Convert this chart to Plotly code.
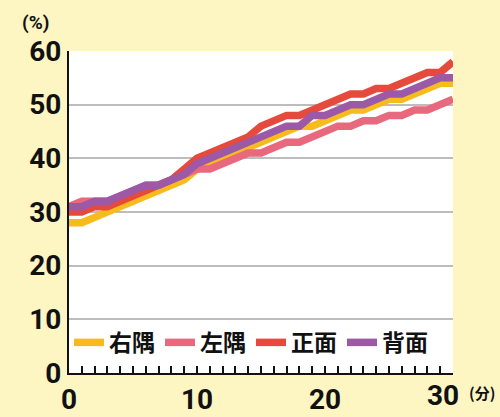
import plotly.graph_objects as go

minutes = list(range(31))

migisumi = [28, 28, 29, 30, 31, 32, 33, 34, 35, 36, 38, 39, 40, 41, 42, 43,
            44, 45, 46, 46, 47, 48, 49, 49, 50, 51, 51, 52, 53, 54, 54]
hidarisumi = [31, 32, 32, 32, 33, 34, 35, 35, 36, 37, 38, 38, 39, 40, 41, 41,
              42, 43, 43, 44, 45, 46, 46, 47, 47, 48, 48, 49, 49, 50, 51]
shomen = [30, 30, 31, 31, 32, 33, 34, 35, 36, 38, 40, 41, 42, 43, 44, 46,
          47, 48, 48, 49, 50, 51, 52, 52, 53, 53, 54, 55, 56, 56, 58]
haimen = [31, 31, 32, 32, 33, 34, 35, 35, 36, 37, 39, 40, 41, 42, 43, 44,
          45, 46, 46, 48, 48, 49, 50, 50, 51, 52, 52, 53, 54, 55, 55]

series = [("右隅", migisumi, "#f8bb1c"),
          ("左隅", hidarisumi, "#e8697e"),
          ("正面", shomen, "#e64a3c"),
          ("背面", haimen, "#9b59a8")]

# labels every 10 min; the 30 label is drawn separately so it can sit left of (分)
x_ticktext = [str(m) if m % 10 == 0 and m < 30 else "" for m in minutes]
y_ticks = [0, 10, 20, 30, 40, 50, 60]

bg = "#fdf5c2"

fig = go.Figure()
for name, vals, col in series:
    fig.add_trace(go.Scatter(x=minutes, y=vals, name=name, mode="lines",
                             line=dict(color=col, width=7.5), cliponaxis=False))

tick_font = dict(family="Roboto, sans-serif", size=28, color="#111111",
                 weight="bold")

fig.update_layout(
    width=500, height=417,
    margin=dict(l=69, r=47, t=51, b=44, autoexpand=False),
    paper_bgcolor=bg,
    plot_bgcolor="#ffffff",
    showlegend=True,
    legend=dict(orientation="h", x=0.0, y=0.095, xanchor="left", yanchor="middle",
                bgcolor="rgba(0,0,0,0)", itemwidth=30, tracegroupgap=0,
                font=dict(family="Noto Sans CJK JP", size=23, color="#111111",
                          weight="bold")),
    xaxis=dict(range=[0, 30], tickvals=minutes, ticktext=x_ticktext,
               ticks="inside", ticklen=7, tickwidth=1.5, tickcolor="#111111",
               showgrid=False, zeroline=False, showline=True, linecolor="#111111",
               linewidth=2, tickfont=tick_font, automargin=False, fixedrange=True),
    yaxis=dict(range=[0, 60], tickvals=y_ticks, showgrid=True,
               gridcolor="#bdbdbd", gridwidth=2, zeroline=False, showline=True,
               linecolor="#111111", linewidth=2, ticks="", tickfont=tick_font,
               ticklabelstandoff=0, automargin=False, fixedrange=True),
)

fig.add_annotation(text="30", xref="x", yref="paper", x=30, y=0,
                   xanchor="right", yanchor="top", xshift=8, yshift=-4,
                   showarrow=False, font=tick_font)
fig.add_annotation(text="(%)", xref="paper", yref="paper", x=-0.088, y=1.09,
                   xanchor="center", yanchor="middle", showarrow=False,
                   font=dict(family="Roboto, sans-serif", size=19,
                             color="#111111", weight="bold"))
fig.add_annotation(text="(分)", xref="paper", yref="paper", x=1.114, y=-0.062,
                   xanchor="right", yanchor="middle", showarrow=False,
                   font=dict(family="Noto Sans CJK JP", size=15, color="#111111",
                             weight="bold"))

# drop the browser's default body margin so the figure sits at the page corner
fig.write_html("out.html", config={"displayModeBar": False}, post_script=(
    "document.body.style.margin='0';"
    f"document.body.style.background='{bg}';"))
